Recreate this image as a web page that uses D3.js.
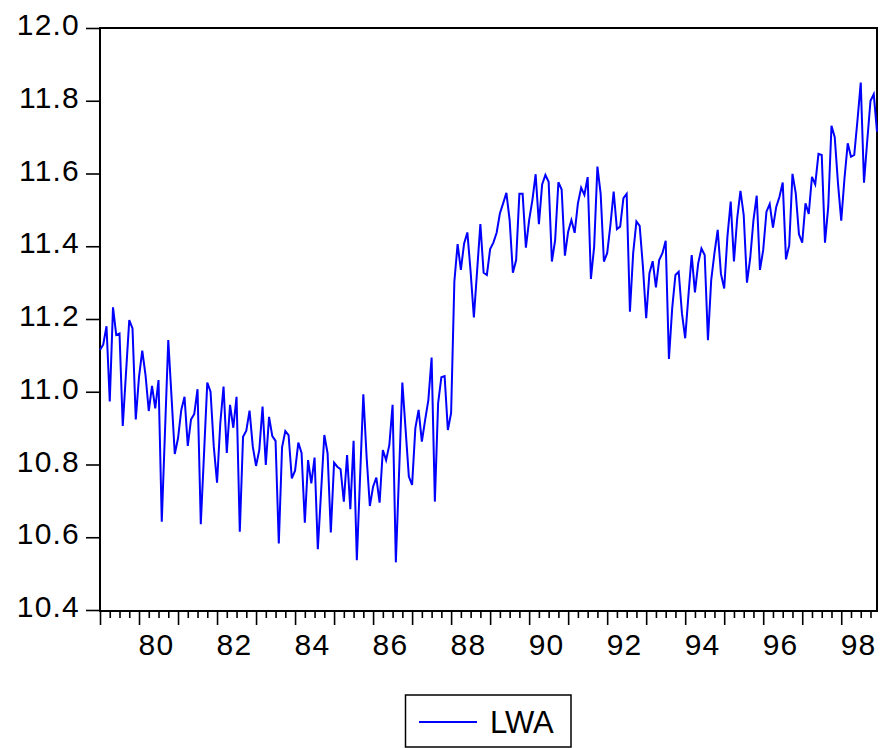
<!DOCTYPE html>
<html>
<head>
<meta charset="utf-8">
<script src="https://cdn.jsdelivr.net/npm/d3@7/dist/d3.min.js"></script>
<style>
  html, body { margin: 0; padding: 0; background: #fff; }
  svg { display: block; font-family: "Liberation Sans", Arial, Helvetica, sans-serif; }
</style>
</head>
<body>
<svg id="chart" width="882" height="748"></svg>
<script>
// Monthly series LWA, 1979M01 - 1998M12
const startYear = 1979;
const seriesName = "LWA";
const lwa = [
  11.115, 11.13, 11.18, 10.973, 11.232, 11.156, 11.16, 10.906, 11.052, 11.197, 11.174, 10.924,
  11.041, 11.113, 11.046, 10.947, 11.016, 10.954, 11.032, 10.643, 10.893, 11.142, 10.986, 10.829,
  10.872, 10.950, 10.986, 10.851, 10.924, 10.939, 11.007, 10.636, 10.83, 11.025, 11.000, 10.849,
  10.75, 10.913, 11.014, 10.832, 10.964, 10.901, 10.986, 10.615, 10.876, 10.893, 10.948, 10.849,
  10.796, 10.84, 10.959, 10.799, 10.931, 10.878, 10.865, 10.583, 10.847, 10.892, 10.881, 10.762,
  10.783, 10.86, 10.832, 10.64, 10.812, 10.748, 10.819, 10.567, 10.724, 10.881, 10.831, 10.613,
  10.805, 10.794, 10.787, 10.698, 10.826, 10.677, 10.865, 10.537, 10.766, 10.993, 10.822, 10.686,
  10.739, 10.764, 10.695, 10.84, 10.812, 10.854, 10.964, 10.531, 10.779, 11.025, 10.896, 10.767,
  10.744, 10.9, 10.95, 10.863, 10.922, 10.977, 11.094, 10.698, 10.968, 11.04, 11.043, 10.895,
  10.942, 11.303, 11.406, 11.335, 11.408, 11.438, 11.33, 11.204, 11.333, 11.461, 11.327, 11.321,
  11.392, 11.41, 11.437, 11.49, 11.518, 11.547, 11.472, 11.327, 11.362, 11.544, 11.544, 11.396,
  11.472, 11.527, 11.598, 11.461, 11.57, 11.596, 11.577, 11.358, 11.417, 11.576, 11.556, 11.374,
  11.44, 11.472, 11.437, 11.518, 11.561, 11.541, 11.59, 11.31, 11.399, 11.619, 11.544, 11.358,
  11.381, 11.458, 11.55, 11.447, 11.454, 11.532, 11.544, 11.22, 11.381, 11.468, 11.456, 11.344,
  11.202, 11.326, 11.359, 11.287, 11.362, 11.381, 11.415, 11.09, 11.229, 11.321, 11.33, 11.216,
  11.147, 11.265, 11.376, 11.273, 11.353, 11.394, 11.376, 11.142, 11.307, 11.381, 11.445, 11.324,
  11.284, 11.427, 11.523, 11.358, 11.477, 11.552, 11.486, 11.3, 11.367, 11.472, 11.539, 11.335,
  11.39, 11.495, 11.516, 11.451, 11.508, 11.536, 11.575, 11.364, 11.403, 11.599, 11.546, 11.433,
  11.41, 11.518, 11.489, 11.591, 11.57, 11.654, 11.651, 11.41, 11.508, 11.731, 11.7, 11.573,
  11.47, 11.587, 11.683, 11.646, 11.651, 11.747, 11.85, 11.575, 11.69, 11.8, 11.818, 11.715
];
const yTicks = [10.4, 10.6, 10.8, 11.0, 11.2, 11.4, 11.6, 11.8, 12.0];
const yearLabels = ["80", "82", "84", "86", "88", "90", "92", "94", "96", "98"];

const svg = d3.select("#chart");
const plotLeft = 100, plotRight = 877, plotTop = 28, plotBottom = 611;

const x = d3.scaleLinear().domain([0, lwa.length - 1]).range([plotLeft, plotRight]);
const y = d3.scaleLinear().domain([10.4, 12.0]).range([610, plotTop]);

// frame
svg.append("rect")
  .attr("x", plotLeft).attr("y", plotTop)
  .attr("width", plotRight - plotLeft).attr("height", plotBottom - plotTop)
  .attr("fill", "none").attr("stroke", "#000").attr("stroke-width", 2);

// y axis
const yAxis = d3.axisLeft(y).tickValues(yTicks).tickFormat(d3.format(".1f"))
  .tickSize(14).tickSizeOuter(0).tickPadding(6);
const gy = svg.append("g").attr("transform", `translate(${plotLeft},0)`).call(yAxis);
gy.select(".domain").remove();
gy.selectAll(".tick line").attr("stroke", "#000").attr("stroke-width", 1.6);
gy.selectAll(".tick text")
  .attr("font-size", 30).attr("fill", "#000")
  .attr("letter-spacing", "1.2px")
  .attr("dy", "0.32em").attr("y", -3);

// x axis: quarterly minor ticks, yearly major ticks
const quarterIdx = d3.range(0, lwa.length, 3).filter(i => i % 12 !== 0);
const yearIdx = d3.range(0, lwa.length, 12);
const gxMinor = svg.append("g").attr("transform", `translate(0,${plotBottom})`)
  .call(d3.axisBottom(x).tickValues(quarterIdx).tickSize(7).tickFormat(""));
const gxMajor = svg.append("g").attr("transform", `translate(0,${plotBottom})`)
  .call(d3.axisBottom(x).tickValues(yearIdx).tickSize(14).tickFormat(""));
[gxMinor, gxMajor].forEach(g => {
  g.select(".domain").remove();
  g.selectAll(".tick line").attr("stroke", "#000").attr("stroke-width", 1.6);
});

// year labels sit just right of their year tick
svg.append("g").selectAll("text")
  .data(yearLabels)
  .join("text")
  .attr("x", d => x((1900 + (+d) - startYear) * 12) - 0.5)
  .attr("y", 655)
  .attr("font-size", 30)
  .attr("letter-spacing", "1.2px")
  .attr("fill", "#000")
  .text(d => d);

// series line
const line = d3.line().x((d, i) => x(i)).y(d => y(d));
svg.append("path")
  .datum(lwa)
  .attr("d", line)
  .attr("fill", "none")
  .attr("stroke", "#0000ff")
  .attr("stroke-width", 2)
  .attr("stroke-linejoin", "miter");

// legend
const lg = svg.append("g");
lg.append("rect")
  .attr("x", 405.5).attr("y", 695)
  .attr("width", 165.5).attr("height", 52)
  .attr("fill", "#fff").attr("stroke", "#000").attr("stroke-width", 1.5);
lg.append("line")
  .attr("x1", 419).attr("x2", 477).attr("y1", 722).attr("y2", 722)
  .attr("stroke", "#0000ff").attr("stroke-width", 2);
lg.append("text")
  .attr("x", 490).attr("y", 733)
  .attr("font-size", 31).attr("fill", "#000")
  .text(seriesName);
</script>
</body>
</html>
